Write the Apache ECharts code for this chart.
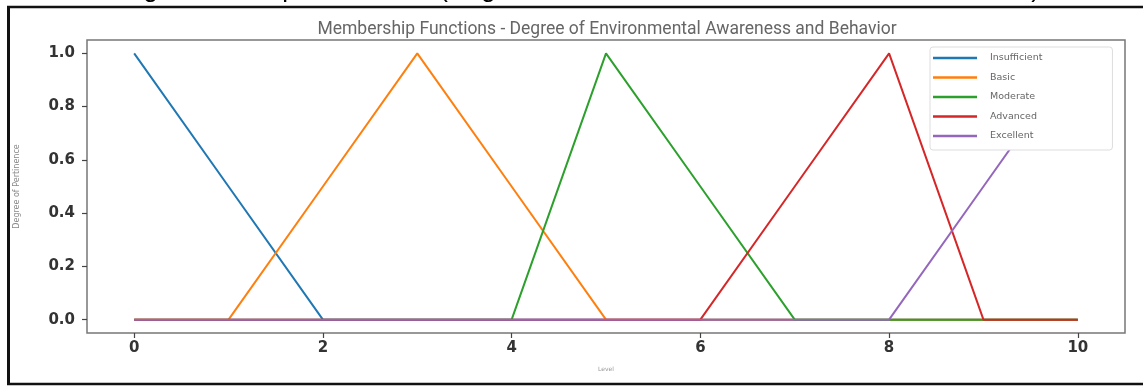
<!DOCTYPE html>
<html>
<head>
<meta charset="utf-8">
<script src="https://cdn.jsdelivr.net/npm/echarts@6/dist/echarts.min.js"></script>
<style>
html,body{margin:0;padding:0;background:#fff;}
#chart{width:1143px;height:386px;}
</style>
</head>
<body>
<div id="chart"></div>
<script>
// ---- data ----
const levels = [0, 1, 2, 3, 4, 5, 6, 7, 8, 9, 10];
const insufficient = [1, 0.5, 0, 0, 0, 0, 0, 0, 0, 0, 0];
const basic        = [0, 0, 0.5, 1, 0.5, 0, 0, 0, 0, 0, 0];
const moderate     = [0, 0, 0, 0, 0, 1, 0.5, 0, 0, 0, 0];
const advanced     = [0, 0, 0, 0, 0, 0, 0, 0.5, 1, 0, 0];
const excellent    = [0, 0, 0, 0, 0, 0, 0, 0, 0, 0.5, 1];
const seriesNames  = ['Insufficient', 'Basic', 'Moderate', 'Advanced', 'Excellent'];
const xTicks = [0, 2, 4, 6, 8, 10];
const yTicks = [0, 0.2, 0.4, 0.6, 0.8, 1.0];
const titleText = 'Membership Functions - Degree of Environmental Awareness and Behavior';
const captionText = 'Figure 4 - Output Variables (Degree of Awareness and Environmental Behavior)';

const colors = ['#1f77b4', '#ff7f0e', '#2ca02c', '#d62728', '#9467bd'];
const allValues = [insufficient, basic, moderate, advanced, excellent];

const chart = echarts.init(document.getElementById('chart'), null, {renderer: 'canvas'});

const series = seriesNames.map((name, i) => ({
  name: name,
  type: 'line',
  showSymbol: false,
  symbol: 'none',
  animation: false,
  lineStyle: {width: 2, color: colors[i]},
  itemStyle: {color: colors[i]},
  data: levels.map((x, j) => [x, allValues[i][j]])
}));

const tickFont = {fontFamily: 'DejaVu Sans', fontSize: 15, color: '#333', fontWeight: 'bold'};

chart.setOption({
  animation: false,
  backgroundColor: '#fff',
  title: {
    text: titleText,
    left: 602, top: 16,
    textAlign: 'center',
    textStyle: {fontFamily: 'Roboto', fontSize: 17.5, fontWeight: 'normal', color: '#666'}
  },
  grid: {
    left: 87, right: 18, top: 40, bottom: 53,
    show: true, borderColor: '#777', borderWidth: 1.5, backgroundColor: 'transparent'
  },
  legend: {
    data: seriesNames,
    orient: 'vertical',
    left: 930, top: 47,
    icon: 'rect',
    itemWidth: 44, itemHeight: 2.5,
    itemGap: 5.5,
    padding: [4, 70, 7, 3],
    backgroundColor: '#fff',
    borderColor: '#ddd', borderWidth: 1, borderRadius: 3,
    textStyle: {fontFamily: 'DejaVu Sans', fontSize: 9.5, color: '#666', lineHeight: 14, padding: [0, 0, 0, 8]}
  },
  xAxis: {
    type: 'value',
    min: -0.5, max: 10.5,
    name: 'Level',
    nameLocation: 'middle',
    nameGap: 33,
    nameTextStyle: {fontFamily: 'DejaVu Sans', fontSize: 6, color: '#999'},
    axisLine: {show: false, onZero: false},
    splitLine: {show: false},
    axisTick: {show: true, inside: false, length: 5, customValues: xTicks, lineStyle: {color: '#444', width: 1.2}},
    axisLabel: {customValues: xTicks, margin: 8, formatter: v => String(v), ...tickFont}
  },
  yAxis: {
    type: 'value',
    min: -0.05, max: 1.05,
    name: 'Degree of Pertinence',
    nameLocation: 'middle',
    nameRotate: 90,
    nameGap: 66,
    nameTextStyle: {fontFamily: 'DejaVu Sans', fontSize: 8, color: '#888'},
    axisLine: {show: false, onZero: false},
    splitLine: {show: false},
    axisTick: {show: true, inside: false, length: 5, customValues: yTicks, lineStyle: {color: '#444', width: 1.2}},
    axisLabel: {customValues: yTicks, margin: 12, formatter: v => v.toFixed(1), ...tickFont}
  },
  graphic: [
    {type: 'text', z: 1,
      x: 1040, y: 3,
      style: {text: captionText, fontFamily: 'Liberation Sans', fontSize: 26, fill: '#000', align: 'right', verticalAlign: 'bottom'}},
    {type: 'line', z: 10, shape: {x1: 7, y1: 7, x2: 1143, y2: 7}, style: {stroke: '#111', lineWidth: 2.5}},
    {type: 'line', z: 10, shape: {x1: 8.5, y1: 6, x2: 8.5, y2: 385}, style: {stroke: '#111', lineWidth: 3}},
    {type: 'line', z: 10, shape: {x1: 7, y1: 384, x2: 1143, y2: 384}, style: {stroke: '#111', lineWidth: 2.5}}
  ],
  series: series
});
</script>
</body>
</html>
